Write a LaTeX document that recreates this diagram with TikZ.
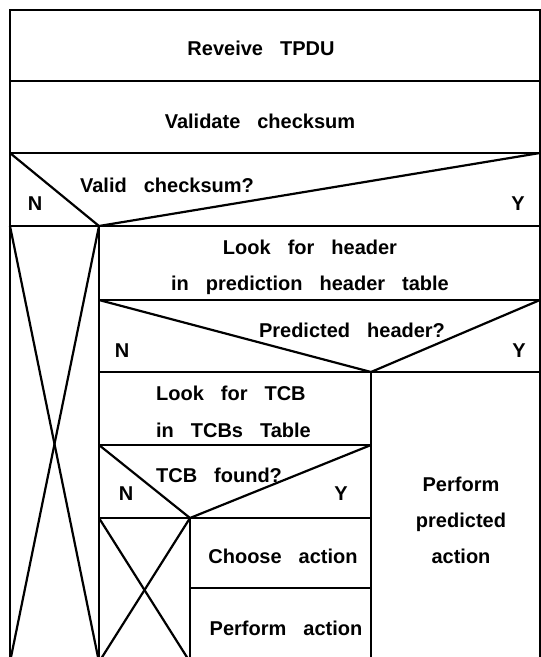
\documentclass[tikz,border=0pt]{standalone}
\usepackage{fontspec}
\setmainfont{Liberation Sans}
\newcommand{\nsfont}{\fontsize{20}{36}\selectfont\bfseries\spaceskip=17pt\relax}
\newcommand{\tcbfont}{\fontsize{20}{37}\selectfont\bfseries\spaceskip=17pt\relax}

\begin{document}
\begin{tikzpicture}[x=1pt,y=-1pt,line width=2.2pt,every node/.style={font=\nsfont,inner sep=0pt},lbl/.style={anchor=base}]
\useasboundingbox (0,0) rectangle (541,657);
\clip (0,0) rectangle (541,657);
\coordinate (a0) at (10,10);
\coordinate (a1) at (540,10);
\coordinate (b0) at (10,81);
\coordinate (b1) at (540,81);
\coordinate (c0) at (10,153);
\coordinate (c1) at (540,153);
\coordinate (d0) at (10,226);
\coordinate (d1) at (99,226);
\coordinate (d2) at (540,226);
\coordinate (e0) at (99,300);
\coordinate (e1) at (540,300);
\coordinate (f0) at (99,372);
\coordinate (f1) at (371,372);
\coordinate (f2) at (540,372);
\coordinate (g0) at (99,445);
\coordinate (g1) at (371,445);
\coordinate (h0) at (99,518);
\coordinate (h1) at (190,518);
\coordinate (h2) at (371,518);
\coordinate (i0) at (190,588);
\coordinate (i1) at (371,588);
\coordinate (z0) at (10,662);
\coordinate (z1) at (99,662);
\coordinate (z2) at (190,662);
\coordinate (z3) at (371,662);
\coordinate (z4) at (540,662);
\draw (z0)--(a0)--(a1)--(z4);
\draw (b0)--(b1);
\draw (c0)--(c1);
\draw (d0)--(d2);
\draw (e0)--(e1);
\draw (f0)--(f2);
\draw (g0)--(g1);
\draw (h0)--(h2);
\draw (i0)--(i1);
\draw (d1)--(z1);
\draw (f1)--(z3);
\draw (h1)--(z2);
\draw (c0)--(d1)--(c1);
\draw (e0)--(f1)--(e1);
\draw (g0)--(h1)--(g1);
\draw (d0)--(z1);
\draw (d1)--(z0);
\draw (h0)--(z2);
\draw (h1)--(z1);
\node[lbl] (recv) at (261,55) {Reveive TPDU};
\node[lbl] (valid) at (260,128) {Validate checksum};
\node[lbl] (qsum) at (167,192) {Valid checksum?};
\node[lbl] (nsum) at (35,210) {N};
\node[lbl] (ysum) at (518,210) {Y};
\node[lbl,align=center] (look) at (310,290) {Look for header\\in prediction header table};
\node[lbl] (qhdr) at (352,337) {Predicted header?};
\node[lbl] (nhdr) at (122,357) {N};
\node[lbl] (yhdr) at (519,357) {Y};
\node[anchor=base west,align=left,font=\tcbfont] (tcb) at (155,437) {Look for TCB\\in TCBs Table};
\node[anchor=base west] (qtcb) at (155,482) {TCB found?};
\node[lbl] (ntcb) at (126,500) {N};
\node[lbl] (ytcb) at (341,500) {Y};
\node[lbl] (choose) at (283,563) {Choose action};
\node[lbl] (perf) at (286,635) {Perform action};
\node[lbl,align=center] (pred) at (461,563) {Perform\\predicted\\action};
\end{tikzpicture}
\end{document}
